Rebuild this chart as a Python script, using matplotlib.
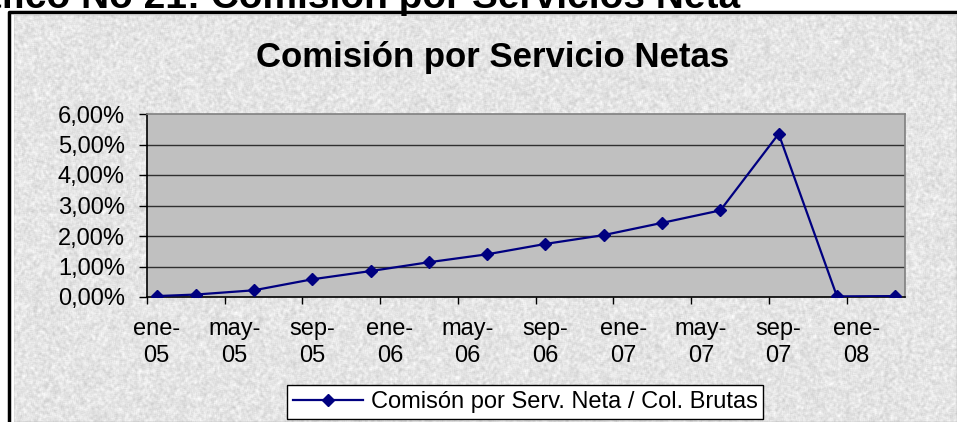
#! /usr/bin/python3
import numpy as np
import matplotlib
matplotlib.use('Agg')
from matplotlib import pyplot as plt
from matplotlib.lines import Line2D


# months counted from ene-05 (0 = enero 2005)
meses = [0, 2, 5, 8, 11, 14, 17, 20, 23, 26, 29, 32, 35, 38]
comision = [0.03, 0.08, 0.22, 0.58, 0.85, 1.14, 1.40, 1.74, 2.03, 2.43, 2.84, 5.35, 0.02, 0.03]

etiquetas_x = ['ene-\n05', 'may-\n05', 'sep-\n05', 'ene-\n06', 'may-\n06',
               'sep-\n06', 'ene-\n07', 'may-\n07', 'sep-\n07', 'ene-\n08']
valores_y = [0, 1, 2, 3, 4, 5, 6]

titulo = 'Comisión por Servicio Netas'
titulo_doc = 'Gráfico No 21: Comisión por Servicios Neta'
leyenda = 'Comisón por Serv. Neta / Col. Brutas'

W, H = 957, 422
FONT = 'Liberation Sans'
AZUL = '#000080'


def textura(h, w):
    # light granite look for the chart area background
    rng = np.random.default_rng(7)
    n = rng.random((h, w))
    k = np.ones(3) / 3.0
    n = np.apply_along_axis(lambda r: np.convolve(r, k, mode='same'), 1, n)
    n = np.apply_along_axis(lambda c: np.convolve(c, k, mode='same'), 0, n)
    n = (n - n.min()) / (n.max() - n.min())
    return 0.78 + 0.22 * n


def px_x(x):
    return x / W


def px_y(y):
    return 1 - y / H


def main():
    plt.rcParams['font.family'] = [FONT, 'DejaVu Sans']
    fig = plt.figure(figsize=(W / 100, H / 100), dpi=100)
    fig.patch.set_facecolor('white')

    # background with frame and texture
    bg = fig.add_axes([0, 0, 1, 1])
    bg.set_xlim(0, W)
    bg.set_ylim(H, 0)
    bg.axis('off')
    bg.imshow(textura(H - 15, W - 14), cmap='gray', vmin=0, vmax=1,
              extent=[14, W, H, 15], aspect='auto', interpolation='nearest')
    bg.add_line(Line2D([8.5, 8.5, W + 5], [H + 5, 12, 12], color='black', lw=2.5))

    # document caption, cut off by the top of the image as in the original
    bg.text(740, 8, titulo_doc, ha='right', va='baseline', fontsize=28,
            fontweight='bold', color='black')

    ax = fig.add_axes([px_x(147), px_y(297), (905 - 147) / W, (297 - 114) / H])
    ax.set_facecolor('#c0c0c0')
    x = np.array(meses) + 0.5
    y = np.array(comision)
    ax.plot(x, y, color=AZUL, lw=1.6, marker='D', markersize=6.5,
            markerfacecolor=AZUL, markeredgecolor=AZUL, label=leyenda, zorder=3)

    ax.set_xlim(0, 39)
    ax.set_ylim(0, 6)
    ax.set_yticks(valores_y)
    ax.set_yticklabels(['{:.2f}%'.format(v).replace('.', ',') for v in valores_y],
                       fontsize=17)
    for v in valores_y[1:-1]:
        ax.axhline(v, color='#303030', lw=1, zorder=1)

    ax.set_xticks(np.arange(0, 37, 4))
    ax.set_xticklabels([])
    ax.set_xticks(np.arange(0, 37, 4) + 0.5, minor=True)
    ax.set_xticklabels(etiquetas_x, minor=True, fontsize=17)
    for t in ax.get_xticklabels(minor=True):
        t.set_linespacing(1.3)
    ax.tick_params(axis='x', which='major', length=5, width=1, color='black',
                   direction='out')
    ax.tick_params(axis='x', which='minor', length=0, pad=15)
    ax.tick_params(axis='y', length=6, width=1, color='black', direction='out', pad=10)

    for s in ['top', 'right']:
        ax.spines[s].set_color('#808080')
        ax.spines[s].set_linewidth(1.2)
    for s in ['left', 'bottom']:
        ax.spines[s].set_color('black')
        ax.spines[s].set_linewidth(1.2)

    fig.text(px_x(493), px_y(57), titulo, ha='center', va='center', fontsize=25,
             fontweight='bold', color='black')

    leg = fig.legend(loc='center', bbox_to_anchor=(px_x(525), px_y(402)),
                     fontsize=17, frameon=True, fancybox=False, handlelength=3.0,
                     handletextpad=0.3, borderpad=0.25, borderaxespad=0)
    leg.get_frame().set_edgecolor('black')
    leg.get_frame().set_linewidth(1)
    leg.get_frame().set_facecolor('white')
    leg.get_frame().set_alpha(1)

    fig.savefig('out.png', dpi=100)


if __name__ == "__main__":
    main()
